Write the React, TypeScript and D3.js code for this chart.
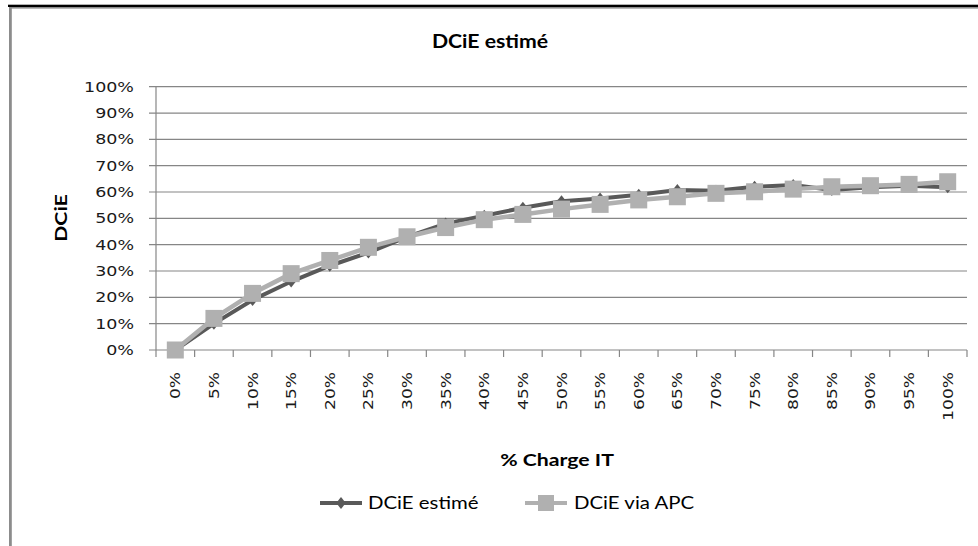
import React from "react";
import * as d3 from "d3";

const categories = ["0%","5%","10%","15%","20%","25%","30%","35%","40%","45%","50%","55%","60%","65%","70%","75%","80%","85%","90%","95%","100%"];
const dcieEstime = [0, 10, 19, 26, 32, 37, 43, 48, 51, 54, 56.5, 57.5, 59, 60.8, 60.5, 62, 62.7, 60.8, 61.8, 62.4, 61.8];
const dcieApc = [0, 12, 21.5, 29, 34, 39, 43, 46.5, 49.5, 51.5, 53.5, 55.3, 57, 58.2, 59.5, 60.1, 61.1, 62, 62.4, 62.9, 63.9];
const yTicks = [0, 10, 20, 30, 40, 50, 60, 70, 80, 90, 100];
const seriesNames = ["DCiE estimé", "DCiE via APC"];

const W = 978, H = 546;
const left = 156, right = 967, top = 86.7, bottom = 350;
const DARK = "#595959", LIGHT = "#b0b0b0", GRID = "#868686";

function SText({ x, y, sx = 1.2, rotate = 0, anchor = "start", children, ...rest }: any) {
  const tr = rotate ? `translate(${x},${y}) rotate(${rotate}) scale(${sx},1)` : `translate(${x},${y}) scale(${sx},1)`;
  return <text transform={tr} textAnchor={anchor} {...rest}>{children}</text>;
}

export default function App() {
  const x = d3.scaleBand<string>().domain(categories).range([left, right]).padding(0);
  const y = d3.scaleLinear().domain([0, 100]).range([bottom, top]);
  const cx = (c: string) => (x(c) as number) + x.bandwidth() / 2;
  const line = d3.line<number>().x((_, i) => cx(categories[i])).y(d => y(d));
  const boundaries = categories.map(c => x(c) as number).concat([right]);
  const tickFont = "'DejaVu Sans', sans-serif";
  const labFont = "Lato, 'Open Sans', sans-serif";
  const diamond = (px: number, py: number, r = 6) => `M${px},${py - r}L${px + r * 0.8},${py}L${px},${py + r}L${px - r * 0.8},${py}Z`;
  return (
    <svg width={W} height={H} style={{ position: "absolute", left: 0, top: 0, background: "#fff" }}>
      <rect x={0} y={0} width={W} height={H} fill="#fff" />
      <rect x={8} y={4.7} width={970} height={2.3} fill="#000" />
      <rect x={9} y={7} width={969} height={1.6} fill="#8c8c8c" />
      <rect x={9} y={7} width={2.8} height={H - 7} fill="#8c8c8c" />
      <SText x={490} y={48} anchor="middle" sx={1.18} fontFamily={labFont} fontWeight="bold" fontSize={18} fill="#000">DCiE estimé</SText>
      {yTicks.map(t => (
        <g key={t}>
          <line x1={left - 7} x2={right} y1={y(t)} y2={y(t)} stroke={GRID} strokeWidth={1.2} />
          <SText x={134} y={y(t) + 5} anchor="end" sx={1.25} fontFamily={tickFont} fontSize={14} fill="#1a1a1a">{t + "%"}</SText>
        </g>
      ))}
      <line x1={left} x2={left} y1={top} y2={bottom} stroke={GRID} strokeWidth={1.2} />
      {boundaries.map((b, i) => (
        <line key={i} x1={b} x2={b} y1={bottom} y2={bottom + 7} stroke={GRID} strokeWidth={1.2} />
      ))}
      {categories.map(c => (
        <SText key={c} x={cx(c) + 5} y={372} rotate={-90} anchor="end" sx={1.22} fontFamily={tickFont} fontSize={14} fill="#1a1a1a">{c}</SText>
      ))}
      <SText x={67} y={218} rotate={-90} anchor="middle" sx={1.25} fontFamily={labFont} fontWeight="bold" fontSize={17} fill="#000">DCiE</SText>
      <SText x={557} y={466} anchor="middle" sx={1.25} fontFamily={labFont} fontWeight="bold" fontSize={17} fill="#000">% Charge IT</SText>
      <path d={line(dcieEstime) || ""} fill="none" stroke={DARK} strokeWidth={4} />
      {dcieEstime.map((v, i) => (
        <path key={i} d={diamond(cx(categories[i]), y(v))} fill={DARK} />
      ))}
      <path d={line(dcieApc) || ""} fill="none" stroke={LIGHT} strokeWidth={4.5} />
      {dcieApc.map((v, i) => (
        <rect key={i} x={cx(categories[i]) - 8.5} y={y(v) - 8.5} width={17} height={17} fill={LIGHT} />
      ))}
      <line x1={320} x2={362} y1={503} y2={503} stroke={DARK} strokeWidth={4} />
      <path d={diamond(341, 503)} fill={DARK} />
      <SText x={368} y={509} sx={1.2} fontFamily={labFont} fontSize={17} fill="#000">{seriesNames[0]}</SText>
      <line x1={525} x2={567} y1={503} y2={503} stroke={LIGHT} strokeWidth={4} />
      <rect x={538} y={495} width={16} height={16} fill={LIGHT} />
      <SText x={574} y={509} sx={1.2} fontFamily={labFont} fontSize={17} fill="#000">{seriesNames[1]}</SText>
    </svg>
  );
}
